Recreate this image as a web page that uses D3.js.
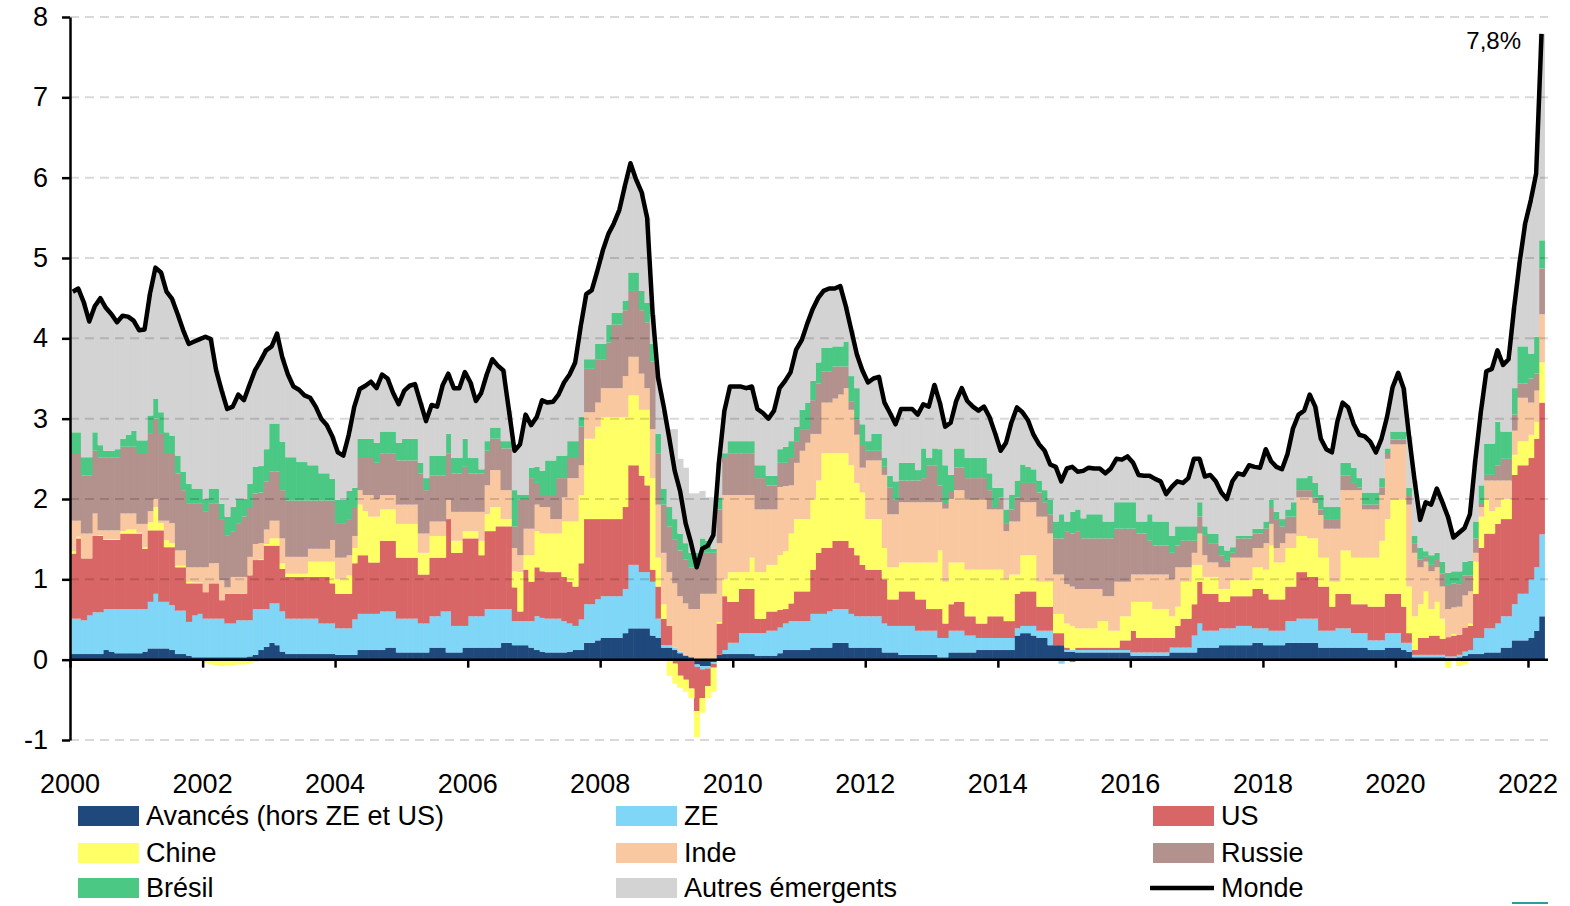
<!DOCTYPE html>
<html>
<head>
<meta charset="utf-8">
<script src="https://cdn.jsdelivr.net/npm/d3@7"></script>
<style>
    body { margin: 0; background: #fff; }
    svg { display: block; font-family: "Liberation Sans", Arial, sans-serif; }
</style>
</head>
<body>
<svg id="chart" width="1570" height="906"></svg>
<script>
// contributions a l'inflation mondiale (pts de %), mensuel janv. 2000 -> mars 2022
// one row per year
var avances = [
    .07, .07, .07, .07, .07, .07, .12, .10, .08, .08, .08, .08,
    .08, .10, .14, .14, .14, .14, .12, .07, .07, .05, .03, .03,
    .03, .03, .03, .03, .03, .03, .03, .03, .04, .06, .12, .16,
    .21, .18, .10, .07, .07, .07, .07, .07, .07, .07, .07, .07,
    .06, .06, .06, .06, .12, .12, .12, .12, .12, .15, .15, .09,
    .09, .09, .09, .09, .09, .15, .15, .15, .09, .09, .09, .15,
    .15, .15, .15, .15, .15, .15, .21, .21, .18, .18, .18, .15,
    .12, .10, .09, .09, .09, .09, .10, .12, .12, .21, .21, .24,
    .27, .27, .27, .27, .33, .39, .39, .39, .39, .30, .27, .15,
    .15, .12, .08, .05, .03, -.06, -.08, -.08, -.03, .06, .07, .07,
    .07, .07, .07, .07, .05, .05, .05, .05, .08, .12, .12, .12,
    .12, .12, .15, .15, .15, .15, .21, .21, .21, .15, .15, .15,
    .15, .15, .15, .09, .09, .09, .06, .06, .06, .06, .06, .06,
    .06, .03, .03, .09, .09, .09, .09, .09, .12, .12, .12, .12,
    .12, .12, .12, .30, .33, .33, .30, .27, .27, .18, .18, .18,
    .10, .10, .09, .09, .09, .09, .09, .09, .09, .09, .09, .09,
    .05, .05, .05, .05, .05, .05, .05, .09, .09, .09, .09, .09,
    .15, .15, .15, .15, .18, .18, .18, .18, .18, .18, .21, .21,
    .18, .18, .18, .18, .21, .21, .21, .21, .21, .21, .15, .15,
    .15, .15, .15, .15, .15, .15, .15, .12, .12, .12, .15, .15,
    .15, .12, .10, .03, .03, .03, .03, .03, .03, .02, .02, .03,
    .05, .07, .07, .07, .09, .09, .09, .15, .15, .24, .24, .24,
    .27, .36, .54
]
var ze = [
    .44, .44, .42, .48, .52, .52, .51, .53, .55, .55, .55, .55,
    .55, .53, .58, .68, .58, .58, .56, .54, .54, .42, .52, .54,
    .48, .48, .48, .48, .42, .42, .46, .46, .45, .57, .51, .47,
    .49, .52, .50, .44, .44, .44, .44, .44, .44, .38, .38, .38,
    .33, .33, .33, .44, .45, .45, .45, .45, .48, .45, .45, .42,
    .42, .42, .42, .36, .36, .39, .39, .45, .51, .33, .33, .27,
    .39, .39, .39, .48, .48, .48, .42, .42, .30, .30, .30, .33,
    .42, .42, .42, .42, .42, .39, .35, .30, .38, .48, .48, .51,
    .52, .52, .52, .52, .55, .79, .79, .70, .70, .67, .24, .03,
    .03, .03, .02, .01, 0, -.03, -.04, -.03, -.02, 0, .05, .14,
    .14, .26, .26, .26, .28, .28, .31, .31, .32, .33, .36, .36,
    .36, .36, .42, .42, .42, .45, .42, .42, .42, .42, .39, .39,
    .39, .39, .39, .36, .33, .33, .36, .36, .36, .30, .30, .30,
    .30, .24, .24, .27, .27, .27, .21, .21, .15, .15, .15, .15,
    .15, .15, .15, .09, .09, .09, .12, .09, .09, .18, 0, -.05,
    .02, .02, .03, .03, .03, .03, .03, .03, .03, .03, .03, .03,
    .04, .04, .04, .04, .04, .04, .04, .06, .06, .06, .06, .21,
    .30, .21, .21, .21, .21, .21, .21, .24, .24, .24, .18, .18,
    .21, .18, .18, .18, .27, .27, .30, .30, .30, .30, .21, .21,
    .21, .24, .24, .24, .18, .18, .18, .12, .12, .12, .18, .18,
    .18, .09, .11, .03, .03, .03, .03, .03, .03, .02, .02, .03,
    .05, .05, .20, .20, .30, .30, .36, .39, .39, .45, .58, .58,
    .73, .79, 1.02
]
var us = [
    .81, 1.0, .77, .71, .95, .95, .86, .86, .86, .94, .94, .94,
    .94, .75, .89, .79, .89, .68, .72, .54, .54, .48, .40, .38,
    .33, .44, .44, .23, .37, .37, .33, .33, .56, .61, .61, .79,
    .72, .72, .53, .52, .52, .52, .52, .52, .52, .58, .58, .50,
    .43, .43, .43, .70, .73, .73, .64, .64, .88, .88, .88, .76,
    .76, .76, .76, .61, .61, .73, .73, .67, 1.15, .91, .91, 1.09,
    .97, .97, .76, .97, .97, 1.03, 1.03, 1.03, .42, .12, .64, .49,
    .61, .58, .58, .58, .58, .55, .52, .49, .70, 1.06, 1.06, 1.00,
    .96, .96, .96, .96, 1.02, 1.24, 1.24, 1.20, 1.08, .15, .40, .33,
    .24, -.05, -.20, -.25, -.36, -.55, -.36, -.22, -.05, .39, .67, .51,
    .51, .55, .55, .55, .18, .18, .24, .24, .22, .18, .22, .37,
    .37, .37, .55, .76, .82, .79, .85, .85, .85, .82, .76, .64,
    .58, .58, .58, .55, .33, .33, .43, .43, .43, .39, .39, .27,
    .27, .36, .18, .33, .36, .36, .24, .24, .18, .18, .27, .27,
    .27, .21, .21, .43, .43, .43, .43, .30, .30, .30, .15, .15,
    .03, -.03, .03, .03, .03, .03, .03, .03, .03, .03, .12, .12,
    .27, .18, .18, .18, .18, .18, .18, .12, .27, .36, .36, .39,
    .52, .46, .46, .46, .33, .33, .40, .37, .37, .37, .49, .49,
    .43, .39, .39, .39, .43, .43, .58, .58, .52, .52, .55, .55,
    .30, .43, .43, .43, .36, .36, .36, .42, .42, .42, .49, .49,
    .49, .45, .12, .06, .21, .21, .24, .24, .20, .24, .26, .25,
    .30, .30, .55, 1.12, 1.18, 1.18, 1.24, 1.21, 1.21, 1.61, 1.60, 1.60,
    1.51, 1.60, 1.64
]
var chine = [
    .03, .02, 0, 0, 0, .01, .01, .01, .01, .03, .05, .05,
    .01, .02, .10, .29, .09, .09, .05, .02, .02, .02, .01, .01,
    -.04, -.06, -.07, -.08, -.07, -.07, -.06, -.06, -.05, -.03, .01, .02,
    .09, .09, .07, .04, .04, .04, .04, .19, .19, .19, .19, .27,
    .18, .18, .23, .19, .63, .55, .57, .57, .39, .39, .39, .42,
    .42, .42, .42, .27, .27, .27, .27, .27, 0, .15, .15, .09,
    .09, .09, .18, .21, .30, .24, .09, .09, .20, .49, .18, .33,
    .45, .47, .48, .48, .48, .69, .75, .81, .85, 1.00, 1.00, 1.15,
    1.27, 1.27, 1.27, 1.27, 1.12, .87, .87, .82, .94, 1.14, .36, .18,
    -.20, -.25, -.15, -.15, -.12, -.32, -.18, -.15, -.30, .02, .21, .37,
    .37, .21, .21, .39, .58, .58, .58, .58, .68, .72, .87, .90,
    .90, .90, .87, .90, 1.18, 1.18, 1.09, 1.09, 1.09, 1.03, .90, .90,
    .63, .63, .63, .39, .40, .40, .36, .36, .36, .46, .46, .58,
    .58, .73, .52, .52, .49, .49, .58, .58, .67, .67, .58, .58,
    .58, .52, .58, .24, .45, .45, .45, .31, .31, .31, .24, .24,
    .30, .30, .24, .24, .24, .24, .33, .33, .21, .21, .30, .30,
    .36, .45, .45, .45, .36, .36, .36, .27, .24, .46, .46, .49,
    .21, .21, .21, .21, .16, .16, .20, .20, .20, .20, .27, .27,
    .30, .67, .46, .46, .48, .48, .45, .45, .48, .48, .36, .36,
    .31, .15, .54, .54, .58, .58, .58, .61, .61, .82, .93, 1.17,
    1.17, 1.33, .58, .42, .42, .58, .33, .42, .25, -.10, .02, -.08,
    -.06, .03, .40, .39, .42, .28, .21, .25, .25, .25, .30, .30,
    .29, .21, .50
]
var inde = [
    .38, .20, .31, .31, .28, .06, .11, .11, .11, .22, .20, .20,
    .11, .29, .14, .10, .03, .24, .25, .19, .19, .18, .19, .19,
    .31, .25, .25, .25, .08, .21, .21, .21, .23, .20, .20, .18,
    .22, .22, .31, .21, .21, .21, .21, .16, .16, .16, .16, .27,
    .27, .27, .25, .15, .18, .20, .27, .22, .18, .18, .18, .24,
    .24, .24, .24, .24, .24, .18, .18, .18, .24, .36, .36, .24,
    .24, .24, .36, .36, .46, .46, .36, .36, .29, .21, .33, .33,
    .33, .33, .33, .18, .18, .30, .54, .54, .37, .33, .33, .30,
    .36, .36, .36, .36, .51, .48, .48, .45, .27, .61, .66, .64,
    .67, .80, .69, .64, .60, .63, .82, .82, .82, .98, 1.05, .96,
    .96, .96, .96, .78, .78, .78, .69, .69, .85, .81, .60, .70,
    .85, .95, .82, .58, .63, .63, .68, .73, .81, .69, .60, .31,
    .73, .73, .73, .91, .66, .66, .75, .75, .75, .75, .75, .75,
    .75, .60, .91, .79, .90, .90, .87, .87, .87, .87, .75, .75,
    .75, .60, .66, .66, .66, .66, .66, .81, .81, .60, .49, .49,
    .49, .49, .49, .49, .49, .49, .40, .31, .43, .61, .43, .43,
    .34, .34, .34, .34, .43, .43, .43, .46, .49, .18, .18, .15,
    .39, .27, .18, .18, .27, .27, .28, .28, .28, .28, .24, .24,
    .33, .27, .18, .24, .18, .18, .48, .48, .51, .44, .53, .36,
    .66, .66, .75, .75, .84, .84, .60, .60, .60, .57, .75, .69,
    .69, .69, 1.02, .79, .46, .37, .47, .43, .40, .35, .33, .35,
    .40, .40, .11, .12, .24, .38, .33, .23, .23, .30, .54, .54,
    .40, .39, .60
]
var russie = [
    .83, .83, .72, .72, .78, .91, .91, .91, .91, .83, .83, .83,
    .87, .87, .96, 1.00, 1.08, .83, .86, .96, .75, .79, .79, .79,
    .69, .74, .74, .76, .65, .57, .67, .75, .62, .63, .63, .60,
    .61, .61, .60, .70, .70, .70, .70, .60, .60, .60, .60, .49,
    .42, .42, .45, .36, .40, .46, .46, .45, .52, .52, .52, .55,
    .55, .55, .55, .75, .54, .57, .57, .57, .58, .48, .48, .56,
    .48, .48, .48, .43, .39, .39, .52, .52, .27, .69, .36, .63,
    .27, .15, .15, .30, .51, .24, .25, .25, .48, .54, .54, .54,
    .36, .57, .79, .79, .82, .82, .82, .79, .82, .84, .64, .60,
    .57, .55, .57, .55, .52, .52, .51, .51, .51, .42, .46, .52,
    .52, .52, .52, .52, .39, .39, .30, .30, .30, .29, .34, .27,
    .27, .17, .42, .63, .39, .39, .40, .35, .27, .10, .19, .27,
    .12, .12, .12, .10, .33, .18, .27, .27, .27, .27, .30, .46,
    .46, .21, .07, .10, .28, .28, .27, .27, .27, .27, .24, .03,
    .15, .09, .15, .30, .24, .24, .24, .30, .18, .24, .45, .45,
    .66, .66, .72, .63, .63, .63, .63, .72, .72, .66, .66, .66,
    .57, .51, .51, .42, .36, .36, .36, .33, .27, .33, .33, .15,
    .21, .24, .24, .24, .15, .08, .06, .24, .24, .24, .18, .18,
    .18, .21, .36, .21, .21, .21, .09, .09, .09, .07, .07, .12,
    .12, .12, .18, .18, .09, .03, .06, .06, .06, .09, .06, .06,
    .06, .06, .12, .12, .10, .06, .08, .09, .16, .30, .30, .28,
    .25, .20, .18, .05, .07, .07, .19, .27, .27, .20, .18, .18,
    .30, .21, .57
]
var bresil = [
    .27, .27, .23, .23, .23, .15, .08, .08, .10, .10, .15, .20,
    .17, .17, .23, .25, .27, .27, .23, .22, .23, .25, .19, .19,
    .16, .19, .19, .19, .23, .30, .30, .22, .29, .33, .33, .40,
    .60, .60, .60, .54, .54, .48, .48, .44, .44, .34, .34, .27,
    .30, .30, .35, .24, .24, .24, .24, .25, .27, .27, .27, .22,
    .27, .27, .27, .13, .15, .25, .25, .25, .24, .19, .19, .35,
    .19, .19, .05, .12, .14, .14, .09, .09, .45, .06, .06, .13,
    .20, .30, .43, .43, .28, .28, .21, .21, .12, .12, .12, .19,
    .19, .22, .15, .15, .12, .23, .23, .24, .24, .22, .24, .20,
    .24, .25, .21, .20, .18, .18, .18, .15, .05, .15, .06, .15,
    .15, .15, .15, .15, .16, .16, .12, .12, .17, .20, .21, .18,
    .24, .33, .24, .26, .29, .29, .25, .25, .31, .32, .39, .27,
    .12, .21, .21, .11, .15, .23, .22, .22, .22, .13, .37, .09,
    .21, .45, .47, .20, .24, .24, .25, .25, .25, .25, .21, .24,
    .12, .18, .18, .21, .23, .20, .17, .15, .15, .18, .21, .30,
    .12, .27, .27, .25, .30, .30, .30, .21, .21, .33, .33, .33,
    .33, .15, .15, .33, .30, .30, .30, .21, .24, .18, .18, .18,
    .18, .12, .12, .12, .12, .13, .07, .03, .03, .03, .06, .06,
    .09, .09, .09, .09, .09, .18, .15, .15, .18, .18, .18, .15,
    .15, .15, .16, .16, .19, .12, .15, .15, .15, .12, .07, .10,
    .10, .10, .09, .09, .14, .07, .12, .09, .15, .15, .15, .16,
    .17, .18, .21, .22, .39, .39, .54, .34, .34, .33, .46, .46,
    .31, .46, .35
]
var autres = [
    1.75, 1.79, 1.93, 1.69, 1.57, 1.83, 1.78, 1.70, 1.58, 1.53, 1.47, 1.37,
    1.37, 1.38, 1.51, 1.63, 1.74, 1.75, 1.70, 1.76, 1.76, 1.74, 1.83, 1.86,
    2.02, 1.86, 1.47, 1.41, 1.34, 1.25, 1.30, 1.23, 1.23, 1.20, 1.32, 1.25,
    .96, 1.12, 1.05, 1.03, .88, .90, .83, .84, .73, .68, .60, .53,
    .59, .55, .70, 1.01, .62, .66, .71, .68, .71, .66, .48, .48,
    .60, .66, .68, .75, .71, .63, .61, .88, .75, .87, .87, .83,
    .94, .71, .95, .83, .85, .77, .88, .38, .49, .63, 1.00, .53,
    .62, .88, .72, .73, .76, .91, .83, .98, 1.13, .81, .86, .91,
    1.17, 1.13, 1.11, 1.28, 1.43, 1.33, 1.16, 1.23, 1.06, .37, .69, .97,
    .97, 1.12, .93, .94, .74, .74, .59, .54, .64, .43, .53, .68,
    .68, .68, .66, .68, .70, .65, .71, .81, .76, .82, .86, .96,
    .87, .98, .89, .80, .71, .74, .72, .75, .44, .57, .42, .67,
    .73, .69, .71, .69, .78, .71, .67, .67, .67, .69, .55, .64,
    .79, .58, .48, .65, .59, .75, .71, .64, .59, .64, .70, .68,
    .46, .83, .90, .91, .65, .58, .43, .45, .49, .44, .68, .41,
    .66, .53, .47, .59, .58, .57, .57, .60, .66, .54, .53, .57,
    .49, .58, .57, .48, .53, .50, .34, .61, .56, .54, .60, .84,
    .54, .62, .73, .65, .66, .64, .82, .78, .76, .88, .77, .76,
    .90, .48, .56, .62, .69, .92, .79, .84, 1.01, .95, .70, .72,
    .68, 1.06, .75, .69, .54, .54, .70, .63, .50, .49, .39, .55,
    .73, .54, .64, .69, .35, .61, .63, .80, .74, .70, .42, .48,
    .42, .58, .76, .91, .90, .93, .89, .83, .90, 1.00, 1.05, 1.53,
    1.91, 2.03, 2.57
]
var monde = [
    4.58, 4.62, 4.45, 4.21, 4.40, 4.50, 4.38, 4.30, 4.20, 4.28, 4.27, 4.22,
    4.10, 4.11, 4.55, 4.88, 4.82, 4.58, 4.49, 4.30, 4.10, 3.93, 3.96, 3.99,
    4.02, 3.99, 3.60, 3.35, 3.12, 3.15, 3.30, 3.23, 3.42, 3.60, 3.72, 3.85,
    3.90, 4.06, 3.76, 3.55, 3.40, 3.36, 3.29, 3.26, 3.15, 3.00, 2.92, 2.78,
    2.58, 2.54, 2.80, 3.15, 3.37, 3.41, 3.46, 3.38, 3.55, 3.50, 3.32, 3.18,
    3.35, 3.41, 3.43, 3.20, 2.97, 3.17, 3.15, 3.42, 3.56, 3.38, 3.38, 3.58,
    3.45, 3.22, 3.32, 3.55, 3.74, 3.66, 3.60, 3.10, 2.60, 2.68, 3.05, 2.92,
    3.02, 3.23, 3.20, 3.21, 3.30, 3.45, 3.55, 3.70, 4.15, 4.55, 4.60, 4.84,
    5.10, 5.30, 5.43, 5.60, 5.90, 6.18, 5.98, 5.82, 5.50, 4.30, 3.50, 3.15,
    2.75, 2.35, 2.10, 1.70, 1.45, 1.15, 1.38, 1.42, 1.55, 2.45, 3.10, 3.40,
    3.40, 3.40, 3.38, 3.40, 3.12, 3.07, 3.00, 3.10, 3.38, 3.47, 3.58, 3.86,
    3.98, 4.18, 4.36, 4.50, 4.59, 4.62, 4.62, 4.65, 4.40, 4.10, 3.80, 3.60,
    3.45, 3.50, 3.52, 3.20, 3.07, 2.93, 3.12, 3.12, 3.12, 3.05, 3.18, 3.15,
    3.42, 3.20, 2.90, 2.95, 3.22, 3.38, 3.22, 3.15, 3.10, 3.15, 3.02, 2.82,
    2.60, 2.70, 2.95, 3.14, 3.08, 2.98, 2.80, 2.68, 2.60, 2.43, 2.40, 2.22,
    2.38, 2.40, 2.34, 2.35, 2.39, 2.38, 2.38, 2.32, 2.38, 2.50, 2.49, 2.53,
    2.45, 2.30, 2.29, 2.29, 2.25, 2.22, 2.06, 2.15, 2.22, 2.20, 2.26, 2.50,
    2.50, 2.28, 2.30, 2.22, 2.08, 2.00, 2.22, 2.32, 2.30, 2.42, 2.40, 2.39,
    2.62, 2.47, 2.40, 2.37, 2.56, 2.88, 3.05, 3.10, 3.30, 3.15, 2.75, 2.62,
    2.58, 2.96, 3.20, 3.14, 2.93, 2.80, 2.78, 2.71, 2.58, 2.75, 3.02, 3.39,
    3.57, 3.38, 2.78, 2.23, 1.74, 1.96, 1.93, 2.13, 1.96, 1.78, 1.52, 1.58,
    1.64, 1.81, 2.48, 3.08, 3.59, 3.62, 3.85, 3.67, 3.74, 4.38, 4.95, 5.43,
    5.72, 6.05, 7.79
]

var keys = ["avances", "ze", "us", "chine", "inde", "russie", "bresil", "autres"]
var series = { avances: avances, ze: ze, us: us, chine: chine, inde: inde, russie: russie, bresil: bresil, autres: autres }
var names = {
    avances: "Avancés (hors ZE et US)", ze: "ZE", us: "US",
    chine: "Chine", inde: "Inde", russie: "Russie",
    bresil: "Brésil", autres: "Autres émergents"
}
var colors = {
    avances: "#1f497d", ze: "#7fd6f7", us: "#d96666", chine: "#ffff66",
    inde: "#f9c8a0", russie: "#b3918d", bresil: "#4bc884", autres: "#d3d3d3"
}
var yTicks = [-1, 0, 1, 2, 3, 4, 5, 6, 7, 8]
var xYears = [2000, 2002, 2004, 2006, 2008, 2010, 2012, 2014, 2016, 2018, 2020, 2022]
var lastLabel = "7,8%"

keys.forEach(function (k) {
    if (series[k].length !== monde.length) throw new Error(k + " has " + series[k].length + " values")
})

var svg = d3.select("#chart")
svg.append("rect").attr("width", 1570).attr("height", 906).attr("fill", "#fff")

var x = d3.scaleTime().domain([new Date(2000, 0, 1), new Date(2022, 0, 1)]).range([70, 1528])
var y = d3.scaleLinear().domain([-1, 8]).range([740, 17])

var months = monde.map(function (d, i) { return new Date(2000, i, 1) })
var rows = months.map(function (m, i) {
    var r = { date: m }
    keys.forEach(function (k) { r[k] = series[k][i] })
    return r
})
var stacked = d3.stack().keys(keys).offset(d3.stackOffsetDiverging)(rows)

var mx = function (dt) { return x(dt) }
var mw = function (dt) { return x(d3.timeMonth.offset(dt, 1)) - x(dt) }

// bars
svg.append("g").selectAll("g")
    .data(stacked)
    .join("g")
    .attr("fill", function (s) { return colors[s.key] })
    .selectAll("rect")
    .data(function (s) { return s })
    .join("rect")
    .attr("x", function (d) { return mx(d.data.date) })
    .attr("width", function (d) { return mw(d.data.date) + 0.6 })
    .attr("y", function (d) { return y(d[1]) })
    .attr("height", function (d) { return Math.max(0, y(d[0]) - y(d[1])) })

// gridlines (drawn over bars, translucent like the original)
svg.append("g").selectAll("line")
    .data(yTicks.filter(function (v) { return v !== 0 }))
    .join("line")
    .attr("x1", 70).attr("x2", 1548)
    .attr("y1", function (v) { return y(v) }).attr("y2", function (v) { return y(v) })
    .attr("stroke", "#000").attr("stroke-opacity", 0.15)
    .attr("stroke-width", 2).attr("stroke-dasharray", "9,6")

// x axis at zero
var xAxis = svg.append("g")
    .attr("transform", "translate(0," + y(0) + ")")
    .call(d3.axisBottom(x)
        .tickValues(xYears.map(function (yr) { return new Date(yr, 0, 1) }))
        .tickSize(8).tickSizeOuter(0).tickFormat(""))
xAxis.select(".domain").remove()
xAxis.selectAll(".tick line").attr("stroke", "#000").attr("stroke-width", 2.5)
svg.append("line")
    .attr("x1", 70).attr("x2", 1548).attr("y1", y(0)).attr("y2", y(0))
    .attr("stroke", "#000").attr("stroke-width", 2.5)

svg.append("g").selectAll("text")
    .data(xYears)
    .join("text")
    .attr("x", function (yr) { return x(new Date(yr, 0, 1)) })
    .attr("y", 793)
    .attr("text-anchor", "middle")
    .attr("font-size", 27)
    .attr("fill", "#000")
    .text(function (yr) { return yr })

// y axis
var yAxis = svg.append("g")
    .attr("transform", "translate(70,0)")
    .call(d3.axisLeft(y).tickValues(yTicks).tickSize(8).tickSizeOuter(0).tickPadding(14)
        .tickFormat(function (v) { return String(v) }))
yAxis.select(".domain").attr("stroke", "#000").attr("stroke-width", 2.5)
yAxis.selectAll(".tick line").attr("stroke", "#000").attr("stroke-width", 2.5)
yAxis.selectAll(".tick text").attr("font-size", 27).attr("font-family", "Liberation Sans, Arial, sans-serif").attr("fill", "#000")

// monde line
var line = d3.line()
    .x(function (d, i) { return mx(months[i]) + mw(months[i]) / 2 })
    .y(function (d) { return y(d) })
svg.append("path")
    .datum(monde)
    .attr("fill", "none")
    .attr("stroke", "#000")
    .attr("stroke-width", 4.5)
    .attr("stroke-linejoin", "round")
    .attr("d", line)

svg.append("text")
    .attr("x", 1521).attr("y", 49)
    .attr("text-anchor", "end")
    .attr("font-size", 24)
    .text(lastLabel)

// legend, 3 x 3
var legendItems = keys.map(function (k) { return { key: k, label: names[k], type: "box" } })
legendItems.push({ key: "monde", label: "Monde", type: "line" })
var colX = [78, 616, 1153]
var rowY = [816, 853, 888]
var leg = svg.append("g").selectAll("g")
    .data(legendItems)
    .join("g")
    .attr("transform", function (d, i) { return "translate(" + colX[i % 3] + "," + rowY[Math.floor(i / 3)] + ")" })
leg.filter(function (d) { return d.type === "box" })
    .append("rect")
    .attr("x", 0).attr("y", -10).attr("width", 61).attr("height", 20)
    .attr("fill", function (d) { return colors[d.key] })
leg.filter(function (d) { return d.type === "line" })
    .append("line")
    .attr("x1", -3).attr("x2", 61).attr("y1", 0).attr("y2", 0)
    .attr("stroke", "#000").attr("stroke-width", 4.5)
leg.append("text")
    .attr("x", 68).attr("y", 9)
    .attr("font-size", 27)
    .text(function (d) { return d.label })

// small teal mark in the bottom right corner of the original
svg.append("rect").attr("x", 1512).attr("y", 902).attr("width", 36).attr("height", 2).attr("fill", "#2e9c9a")
</script>
</body>
</html>
